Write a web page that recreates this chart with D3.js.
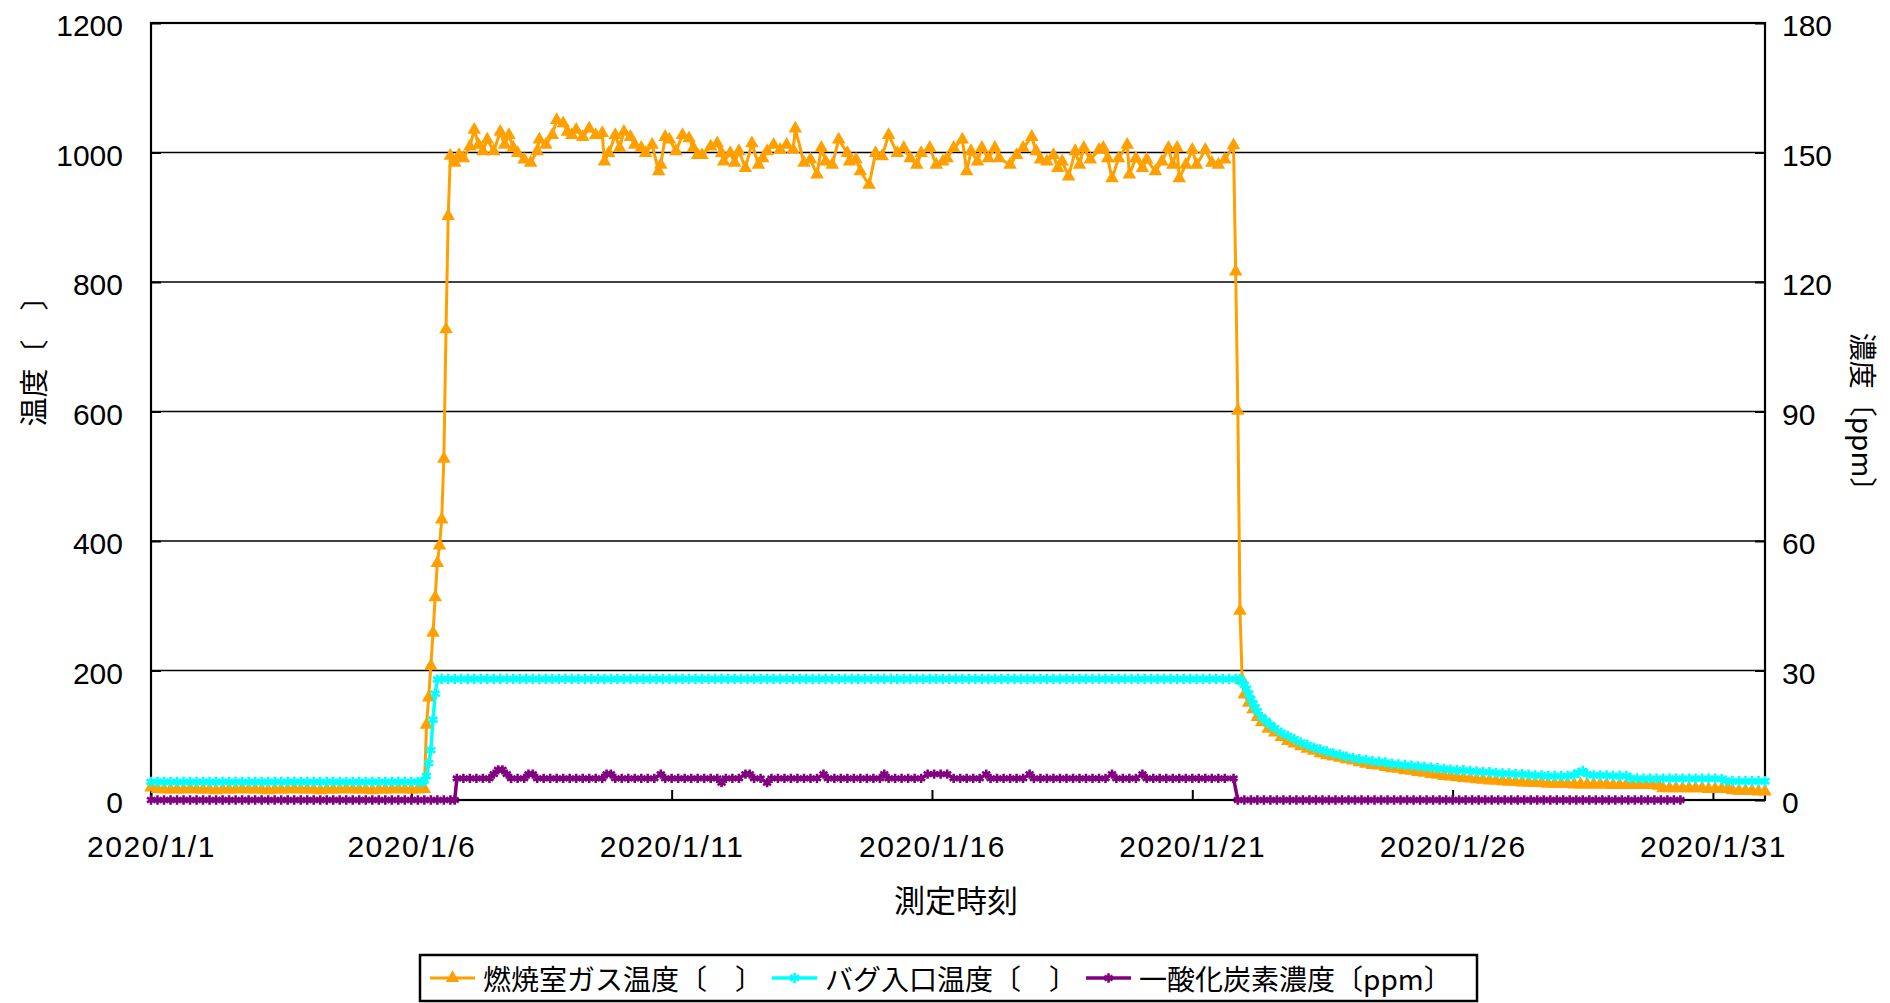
<!DOCTYPE html>
<html>
<head>
<meta charset="utf-8">
<script src="https://cdn.jsdelivr.net/npm/d3@7"></script>
<style>
  body { margin: 0; background: #fff; }
  svg { display: block; }
  .tick text { font-family: "Liberation Sans", Arial, sans-serif; font-size: 30px; fill: #000; }
  .jp { font-family: "Noto Sans CJK JP", sans-serif; fill: #000; }
</style>
</head>
<body>
<svg id="chart" width="1890" height="1003"></svg>
<script>
// hours since 2020/1/1 00:00, value
var furnaceTemp = [
  [0,19],[3,17],[6,16],[9,16],[12,16],[15,16],[18,17],[21,16],[24,16],[27,16],[30,15],[33,16],[36,16],[39,16],
  [42,17],[45,16],[48,16],[51,16],[54,15],[57,16],[60,16],[63,16],[66,17],[69,16],[72,16],[75,16],[78,15],[81,16],
  [84,16],[87,16],[90,17],[93,16],[96,16],[99,16],[102,15],[105,16],[108,16],[111,16],[114,17],[117,16],[120,16],
  [123,16],[125,17],[126,17],
  [127,116],[128,158],[129,207],[130,258],[131,313],[132,366],[133,393],[134,433],[135,527],[136,727],[137,902],[138,995],
  [140,984],[142,996],[144,991],[147,1009],[149,1035],[151,1012],[153,1002],[155,1020],[158,1002],[161,1032],[163,1012],
  [165,1027],[167,1007],[169,999],[172,989],[175,984],[178,1002],[179,1020],[182,1012],[185,1027],[187,1050],[190,1045],
  [192,1032],[194,1027],[196,1035],[199,1024],[202,1037],[205,1027],[208,1030],[209,986],[211,999],[214,1027],[216,1007],
  [218,1032],[221,1024],[223,1012],[226,1007],[228,999],[231,1012],[234,971],[235,981],[237,1024],[239,1020],[242,1002],
  [245,1027],[248,1022],[250,1007],[252,996],[254,996],[258,1009],[261,1014],[263,999],[264,986],[267,999],[269,984],
  [271,1002],[274,976],[277,1014],[280,981],[282,991],[284,1002],[287,1012],[290,1004],[293,1012],[296,1004],[297,1037],
  [301,984],[304,989],[307,966],[309,1007],[311,986],[314,981],[317,1020],[321,999],[322,986],[325,989],[327,971],
  [331,950],[334,999],[337,994],[340,1027],[344,999],[347,1007],[350,991],[353,981],[355,999],[359,1007],[362,981],
  [365,986],[367,991],[370,1007],[374,1020],[376,971],[378,1002],[381,986],[383,1007],[386,991],[389,1007],[391,991],
  [396,981],[399,996],[402,1007],[406,1024],[408,1002],[410,989],[413,986],[416,996],[418,976],[420,986],[423,963],
  [426,1002],[428,981],[430,1007],[433,989],[437,1004],[439,1007],[441,991],[443,960],[446,991],[450,1012],[451,966],
  [454,991],[457,976],[459,989],[463,971],[466,986],[469,1007],[471,981],[473,1007],[474,960],[477,981],[480,1004],
  [482,981],[486,1004],[489,984],[492,981],[495,989],[499,1011],
  [500,816],[501,601],[502,292],[503,185],[504,163],[506,150],[508,140],[510,128],[512,120],[515,110],[518,104],
  [521,97],[524,91],[527,87],[530,83],[533,79],[536,76],[539,72],[542,69],[545,67],[548,65],[551,63],[554,61],
  [557,58],[560,56],[563,54],[566,53],[569,51],[572,49],[575,48],[578,46],[581,45],[584,43],[587,42],[590,40],
  [593,39],[596,37],[599,36],[602,35],[605,34],[608,33],[611,32],[614,31],[617,30],[620,30],[623,29],[626,28],
  [629,28],[632,27],[635,27],[638,26],[641,26],[644,25],[647,25],[650,25],[653,25],[656,24],[659,24],[662,24],
  [665,24],[668,24],[671,24],[674,23],[677,23],[680,23],[683,23],[686,23],[689,23],[692,23],[695,22],[697,18],
  [700,18],[703,18],[706,18],[709,18],[712,18],[715,18],[718,17],[721,17],[724,17],[727,17],[729,15],[732,14],
  [735,14],[738,14],[741,13],[744,13]
];

var bagInletTemp = [
  [0,28],[3,28],[6,28],[9,28],[12,28],[15,28],[18,28],[21,28],[24,28],[27,28],[30,28],[33,28],[36,28],[39,28],
  [42,28],[45,28],[48,28],[51,28],[54,28],[57,28],[60,28],[63,28],[66,28],[69,28],[72,28],[75,28],[78,28],[81,28],
  [84,28],[87,28],[90,28],[93,28],[96,28],[99,28],[102,28],[105,28],[108,28],[111,28],[114,28],[117,28],[120,28],
  [123,28],[125,28],
  [126,30],[127,37],[128,57],[129,77],[130,124],[131,164],[132,186],
  [134,187],[137,187],[140,187],[143,187],[146,187],[149,187],[152,187],[155,187],[158,187],[161,187],[164,187],
  [167,187],[170,187],[173,187],[176,187],[179,187],[182,187],[185,187],[188,187],[191,187],[194,187],[197,187],
  [200,187],[203,187],[206,187],[209,187],[212,187],[215,187],[218,187],[221,187],[224,187],[227,187],[230,187],
  [233,187],[236,187],[239,187],[242,187],[245,187],[248,187],[251,187],[254,187],[257,187],[260,187],[263,187],
  [266,187],[269,187],[272,187],[275,187],[278,187],[281,187],[284,187],[287,187],[290,187],[293,187],[296,187],
  [299,187],[302,187],[305,187],[308,187],[311,187],[314,187],[317,187],[320,187],[323,187],[326,187],[329,187],
  [332,187],[335,187],[338,187],[341,187],[344,187],[347,187],[350,187],[353,187],[356,187],[359,187],[362,187],
  [365,187],[368,187],[371,187],[374,187],[377,187],[380,187],[383,187],[386,187],[389,187],[392,187],[395,187],
  [398,187],[401,187],[404,187],[407,187],[410,187],[413,187],[416,187],[419,187],[422,187],[425,187],[428,187],
  [431,187],[434,187],[437,187],[440,187],[443,187],[446,187],[449,187],[452,187],[455,187],[458,187],[461,187],
  [464,187],[467,187],[470,187],[473,187],[476,187],[479,187],[482,187],[485,187],[488,187],[491,187],[494,187],
  [497,187],[500,187],[502,187],
  [503,182],[504,178],[505,172],[506,164],[507,156],[508,149],[509,143],[510,137],[512,128],[514,122],[516,116],
  [518,111],[521,104],[524,99],[527,94],[530,89],[533,85],[536,81],[539,78],[542,75],[545,72],[548,70],[551,67],
  [554,65],[557,63],[560,62],[563,60],[566,59],[569,58],[572,56],[575,55],[578,54],[581,53],[584,52],[587,51],
  [590,50],[593,49],[596,48],[599,47],[602,46],[605,46],[608,45],[611,44],[614,43],[617,43],[620,42],[623,41],
  [626,41],[629,40],[632,40],[635,39],[638,38],[641,38],[644,37],[647,37],[650,37],[653,37],[656,39],[658,42],
  [660,45],[662,40],[665,38],[668,38],[671,38],[674,37],[677,37],[680,37],[682,34],[685,33],[688,33],[691,33],
  [694,33],[697,33],[700,33],[703,33],[706,33],[709,33],[712,33],[715,33],[718,33],[721,33],[724,32],[726,30],
  [729,29],[732,29],[735,29],[738,29],[741,29],[744,29]
];

var coConc = [
  [0,0],[3,0],[6,0],[9,0],[12,0],[15,0],[18,0],[21,0],[24,0],[27,0],[30,0],[33,0],[36,0],[39,0],[42,0],[45,0],
  [48,0],[51,0],[54,0],[57,0],[60,0],[63,0],[66,0],[69,0],[72,0],[75,0],[78,0],[81,0],[84,0],[87,0],[90,0],[93,0],
  [96,0],[99,0],[102,0],[105,0],[108,0],[111,0],[114,0],[117,0],[120,0],[123,0],[126,0],[129,0],[132,0],[135,0],
  [138,0],[140,0],
  [141,5],[144,5],[147,5],[150,5],[153,5],[156,5],[158,6],[160,7],[162,7],[164,6],[166,5],[169,5],[172,5],[174,6],
  [176,6],[178,5],[181,5],[184,5],[187,5],[190,5],[193,5],[196,5],[199,5],[202,5],[205,5],[208,5],[210,6],[212,6],
  [214,5],[217,5],[220,5],[223,5],[226,5],[229,5],[232,5],[235,6],[237,5],[240,5],[243,5],[246,5],[249,5],[252,5],
  [255,5],[258,5],[261,5],[263,4],[265,5],[268,5],[271,5],[274,6],[276,6],[278,5],[281,5],[284,4],[286,5],[289,5],
  [292,5],[295,5],[298,5],[301,5],[304,5],[307,5],[310,6],[312,5],[315,5],[318,5],[321,5],[324,5],[327,5],[330,5],
  [333,5],[336,5],[338,6],[340,5],[343,5],[346,5],[349,5],[352,5],[355,5],[358,6],[361,6],[364,6],[367,6],[370,5],
  [373,5],[376,5],[379,5],[382,5],[385,6],[387,5],[390,5],[393,5],[396,5],[399,5],[402,5],[405,6],[407,5],[410,5],
  [413,5],[416,5],[419,5],[422,5],[425,5],[428,5],[431,5],[434,5],[437,5],[440,5],[443,6],[445,5],[448,5],[451,5],
  [454,5],[457,6],[459,5],[462,5],[465,5],[468,5],[471,5],[474,5],[477,5],[480,5],[483,5],[486,5],[489,5],[492,5],
  [495,5],[499,5],
  [501,0],[504,0],[507,0],[510,0],[513,0],[516,0],[519,0],[522,0],[525,0],[528,0],[531,0],[534,0],[537,0],[540,0],
  [543,0],[546,0],[549,0],[552,0],[555,0],[558,0],[561,0],[564,0],[567,0],[570,0],[573,0],[576,0],[579,0],[582,0],
  [585,0],[588,0],[591,0],[594,0],[597,0],[600,0],[603,0],[606,0],[609,0],[612,0],[615,0],[618,0],[621,0],[624,0],
  [627,0],[630,0],[633,0],[636,0],[639,0],[642,0],[645,0],[648,0],[651,0],[654,0],[657,0],[660,0],[663,0],[666,0],
  [669,0],[672,0],[675,0],[678,0],[681,0],[684,0],[687,0],[690,0],[693,0],[696,0],[699,0],[702,0],[705,0]
];

var seriesNames = ["燃焼室ガス温度〔　〕", "バグ入口温度〔　〕", "一酸化炭素濃度〔ppm〕"];
var dateTicks = [1, 6, 11, 16, 21, 26, 31];
var tempTicks = [0, 200, 400, 600, 800, 1000, 1200];
var ppmTicks = [0, 30, 60, 90, 120, 150, 180];

var svg = d3.select("#chart");
var t0 = new Date(2020, 0, 1);
function hr(h) { return new Date(t0.getTime() + h * 3600e3); }

var x = d3.scaleTime().domain([new Date(2020, 0, 1), new Date(2020, 1, 1)]).range([151, 1765]);
var yL = d3.scaleLinear().domain([0, 1200]).range([800, 23]);
var yR = d3.scaleLinear().domain([0, 180]).range([800, 23]);

// gridlines
svg.append("g").selectAll("line")
  .data(tempTicks.slice(1, -1))
  .join("line")
  .attr("x1", x.range()[0]).attr("x2", x.range()[1])
  .attr("y1", function(d) { return yL(d); }).attr("y2", function(d) { return yL(d); })
  .attr("stroke", "#000").attr("stroke-width", 1.3);

// frame
svg.append("rect")
  .attr("x", x.range()[0]).attr("y", yL.range()[1])
  .attr("width", x.range()[1] - x.range()[0]).attr("height", yL.range()[0] - yL.range()[1])
  .attr("fill", "none").attr("stroke", "#000").attr("stroke-width", 2.2);

// axes
var gx = svg.append("g").attr("transform", "translate(0," + yL.range()[0] + ")")
  .call(d3.axisBottom(x)
    .tickValues(dateTicks.map(function(d) { return new Date(2020, 0, d); }))
    .tickFormat(d3.timeFormat("%Y/%-m/%-d"))
    .tickSize(-10).tickPadding(36));
gx.select(".domain").remove();
gx.selectAll(".tick line").attr("stroke-width", 2);
gx.selectAll(".tick text").style("letter-spacing", "1.5px");

var gl = svg.append("g").attr("transform", "translate(" + x.range()[0] + ",0)")
  .call(d3.axisLeft(yL).tickValues(tempTicks).tickFormat(d3.format("d")).tickSize(-10).tickPadding(28));
gl.select(".domain").remove();
gl.selectAll(".tick line").attr("stroke-width", 2);
gl.selectAll(".tick text").attr("dy", "0.43em");

var gr = svg.append("g").attr("transform", "translate(" + x.range()[1] + ",0)")
  .call(d3.axisRight(yR).tickValues(ppmTicks).tickFormat(d3.format("d")).tickSize(-10).tickPadding(17));
gr.select(".domain").remove();
gr.selectAll(".tick line").attr("stroke-width", 2);
gr.selectAll(".tick text").attr("dy", "0.43em");

// axis titles
svg.append("text").attr("class", "jp")
  .attr("x", 956).attr("y", 898)
  .attr("text-anchor", "middle").attr("dominant-baseline", "central")
  .attr("font-size", 31).text("測定時刻");

svg.append("text").attr("class", "jp")
  .attr("transform", "translate(32,354) rotate(-90)")
  .attr("text-anchor", "middle").attr("dominant-baseline", "central")
  .attr("font-size", 29).text("温度〔　〕");

svg.append("text").attr("class", "jp")
  .attr("transform", "translate(1864,419) rotate(90)")
  .attr("text-anchor", "middle").attr("dominant-baseline", "central")
  .attr("font-size", 28).text("濃度〔ppm〕");

// series
var styles = [
  { data: furnaceTemp, y: yL, color: "#ffa000", width: 3, sym: d3.symbolTriangle, size: 80, filled: true },
  { data: bagInletTemp, y: yL, color: "#00ffff", width: 3.5, sym: d3.symbolAsterisk, size: 75, filled: false },
  { data: coConc, y: yR, color: "#800080", width: 3.5, sym: d3.symbolAsterisk, size: 60, filled: false }
];

styles.forEach(function(s) {
  var g = svg.append("g");
  var line = d3.line()
    .x(function(d) { return x(hr(d[0])); })
    .y(function(d) { return s.y(d[1]); });
  g.append("path").datum(s.data)
    .attr("d", line)
    .attr("fill", "none").attr("stroke", s.color).attr("stroke-width", s.width)
    .attr("stroke-linejoin", "round");
  g.selectAll(".mk").data(s.data).join("path")
    .attr("class", "mk")
    .attr("transform", function(d) { return "translate(" + x(hr(d[0])) + "," + s.y(d[1]) + ")"; })
    .attr("d", d3.symbol(s.sym, s.size))
    .attr("fill", s.filled ? s.color : "none")
    .attr("stroke", s.filled ? "none" : s.color)
    .attr("stroke-width", 2.6);
});

// legend
var lg = svg.append("g");
lg.append("rect").attr("x", 420).attr("y", 955).attr("width", 1057).attr("height", 46)
  .attr("fill", "#fff").attr("stroke", "#000").attr("stroke-width", 2.5);
var lx = 430, ly = 978;
styles.forEach(function(s, i) {
  lg.append("line").attr("x1", lx).attr("x2", lx + 45).attr("y1", ly).attr("y2", ly)
    .attr("stroke", s.color).attr("stroke-width", s.width);
  lg.append("path").attr("transform", "translate(" + (lx + 22.5) + "," + ly + ")")
    .attr("d", d3.symbol(s.sym, s.size))
    .attr("fill", s.filled ? s.color : "none")
    .attr("stroke", s.filled ? "none" : s.color)
    .attr("stroke-width", 2.6);
  var tx = lg.append("text").attr("class", "jp")
    .attr("x", lx + 53).attr("y", ly)
    .attr("dominant-baseline", "central")
    .attr("font-size", 28).text(seriesNames[i]);
  lx += 53 + tx.node().getComputedTextLength() + 9;
});
</script>
</body>
</html>
